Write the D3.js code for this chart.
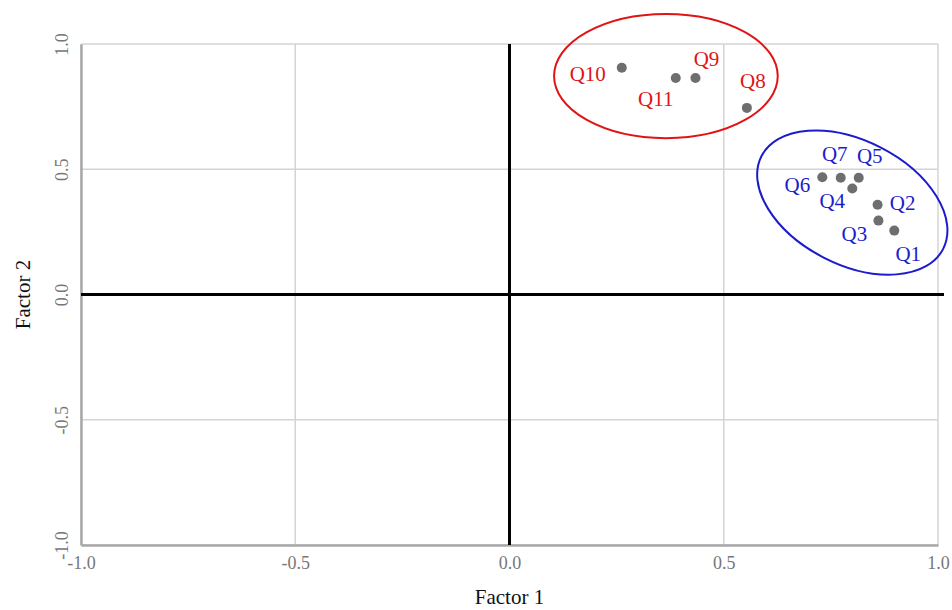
<!DOCTYPE html>
<html>
<head>
<meta charset="utf-8">
<script src="https://cdn.jsdelivr.net/npm/d3@7"></script>
<style>
  body { margin: 0; background: #fff; }
  svg { display: block; font-family: "Liberation Serif", "DejaVu Serif", serif; }
</style>
</head>
<body>
<svg></svg>
<script>
// Factor loadings
const items = ["Q1", "Q2", "Q3", "Q4", "Q5", "Q6", "Q7", "Q8", "Q9", "Q10", "Q11"];
const factor1 = [0.898, 0.859, 0.861, 0.800, 0.815, 0.730, 0.773, 0.554, 0.434, 0.262, 0.388];
const factor2 = [0.255, 0.358, 0.295, 0.423, 0.466, 0.468, 0.466, 0.745, 0.864, 0.905, 0.864];
const groups = ["blue", "blue", "blue", "blue", "blue", "blue", "blue", "red", "red", "red", "red"];
const tickValues = [-1.0, -0.5, 0.0, 0.5, 1.0];

// Label offsets from each point, in pixels
const labelDx = [14, 25, -24, -20, 11, -25, -6, 6, 11, -34, -20];
const labelDy = [23, -2, 13, 12, -22, 7, -24, -27, -19, 6, 21];

const colors = { blue: "#1c1ccc", red: "#e01414" };

const W = 952, H = 610;
const margin = { top: 44, right: 14, bottom: 65, left: 81 };
const width = 938 - margin.left;
const height = 545 - margin.top;

const svg = d3.select("svg").attr("width", W).attr("height", H);
const g = svg.append("g").attr("transform", `translate(${margin.left},${margin.top})`);

const x = d3.scaleLinear().domain([-1, 1]).range([0, width]);
const y = d3.scaleLinear().domain([-1, 1]).range([height, 0]);

const fmt = d => d.toFixed(1);

// Grid lines
g.append("g").selectAll("line").data(tickValues).join("line")
  .attr("x1", d => x(d)).attr("x2", d => x(d))
  .attr("y1", 0).attr("y2", height)
  .attr("stroke", "#d4d4d4").attr("stroke-width", 1.5);
g.append("g").selectAll("line").data(tickValues).join("line")
  .attr("y1", d => y(d)).attr("y2", d => y(d))
  .attr("x1", 0).attr("x2", width)
  .attr("stroke", "#d4d4d4").attr("stroke-width", 1.5);

// Axes (bottom and left lines, labels in gray)
const xAxis = g.append("g")
  .attr("transform", `translate(0,${height})`)
  .call(d3.axisBottom(x).tickValues(tickValues).tickFormat(fmt).tickSize(0).tickPadding(11));
const yAxis = g.append("g")
  .call(d3.axisLeft(y).tickValues(tickValues).tickFormat(fmt).tickSize(0).tickPadding(0));

[xAxis, yAxis].forEach(a => {
  a.attr("font-size", null).attr("font-family", null);
  a.select(".domain").attr("stroke", "#a8a8a8").attr("stroke-width", 2.5);
  a.selectAll("text").attr("fill", "#777").style("font-size", "18px");
});
yAxis.selectAll("text")
  .attr("text-anchor", "middle")
  .attr("transform", "translate(-19,0) rotate(-90)")
  .attr("x", 0).attr("dy", "0.35em");

// Zero lines
g.append("line")
  .attr("x1", x(0)).attr("x2", x(0)).attr("y1", 0).attr("y2", height)
  .attr("stroke", "#000").attr("stroke-width", 3);
g.append("line")
  .attr("x1", 0).attr("x2", width + 6).attr("y1", y(0)).attr("y2", y(0))
  .attr("stroke", "#000").attr("stroke-width", 3);

// Axis titles
svg.append("text")
  .attr("x", x(0) + margin.left).attr("y", 604)
  .attr("text-anchor", "middle")
  .style("font-size", "21px").attr("fill", "#111")
  .text("Factor 1");
svg.append("text")
  .attr("transform", `translate(30,${y(0) + margin.top}) rotate(-90)`)
  .attr("text-anchor", "middle")
  .style("font-size", "21px").attr("fill", "#111")
  .text("Factor 2");

// Cluster ellipses
g.append("ellipse")
  .attr("cx", x(0.365)).attr("cy", y(0.872))
  .attr("rx", x(0.261) - x(0)).attr("ry", y(0) - y(0.248))
  .attr("fill", "none").attr("stroke", colors.red).attr("stroke-width", 2);
g.append("ellipse")
  .attr("transform", `translate(${x(0.800)},${y(0.367)}) rotate(27)`)
  .attr("rx", 102).attr("ry", 62)
  .attr("fill", "none").attr("stroke", colors.blue).attr("stroke-width", 2);

// Points
const pts = items.map((q, i) => ({ q, f1: factor1[i], f2: factor2[i], grp: groups[i], dx: labelDx[i], dy: labelDy[i] }));

g.append("g").selectAll("circle").data(pts).join("circle")
  .attr("cx", d => x(d.f1)).attr("cy", d => y(d.f2))
  .attr("r", 5).attr("fill", "#6e6e6e");

g.append("g").selectAll("text").data(pts).join("text")
  .attr("x", d => x(d.f1) + d.dx).attr("y", d => y(d.f2) + d.dy)
  .attr("text-anchor", "middle").attr("dy", "0.35em")
  .style("font-size", "21px")
  .attr("fill", d => colors[d.grp])
  .text(d => d.q);
</script>
</body>
</html>
